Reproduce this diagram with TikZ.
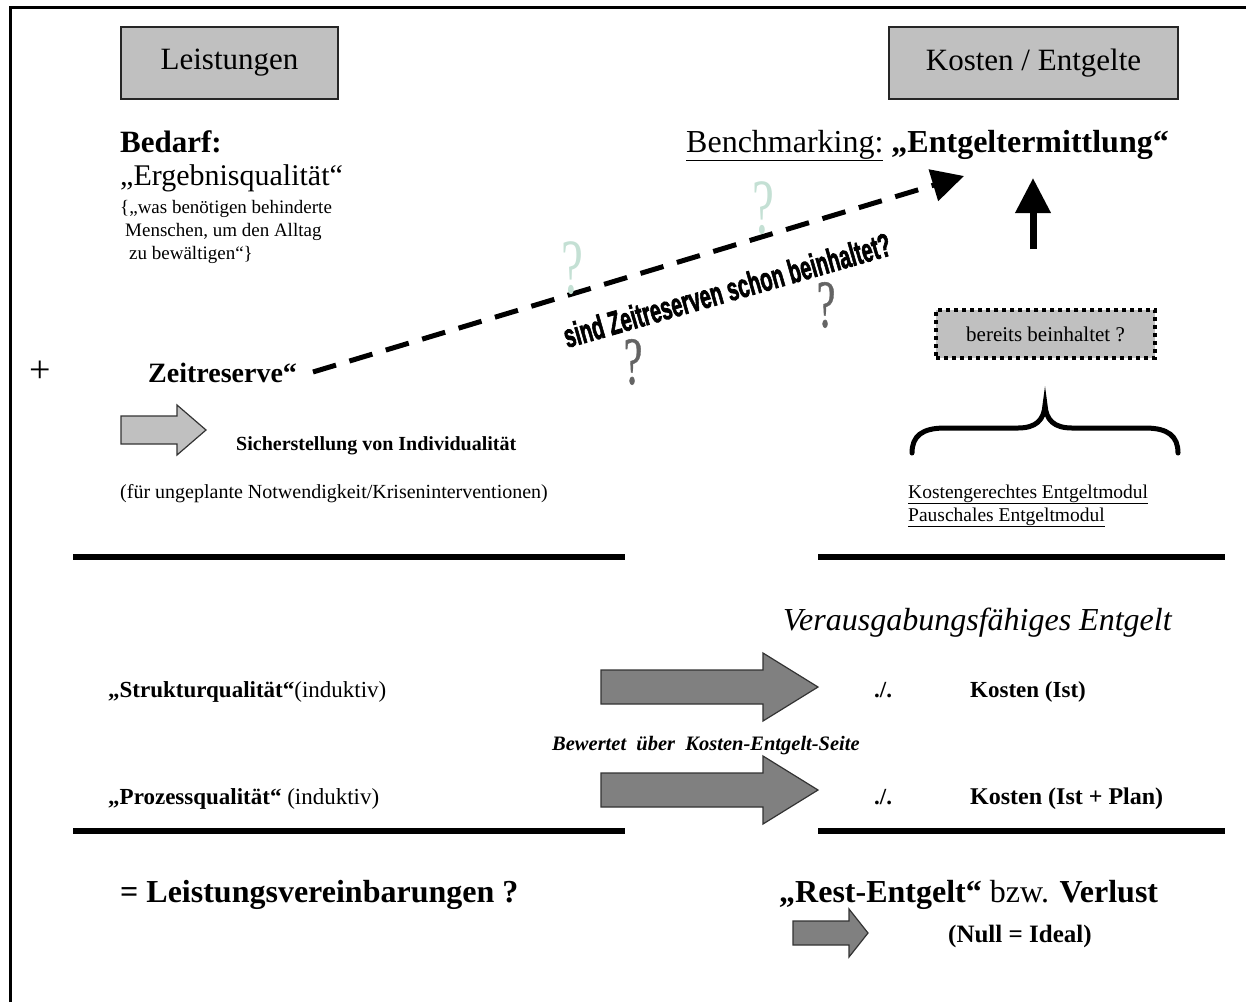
\documentclass[tikz,border=0pt]{standalone}
\usepackage{fontspec}
\setmainfont{Liberation Serif}
\newfontfamily\artfont[UprightFeatures={FakeBold=2.5},BoldFeatures={FakeBold=2.5}]{Liberation Sans}
\newfontfamily\qfont[UprightFeatures={FakeBold=0.8}]{Liberation Serif}
\usetikzlibrary{arrows.meta}
\definecolor{boxgray}{RGB}{192,192,192}
\definecolor{arrgray}{RGB}{128,128,128}
\definecolor{mint}{RGB}{196,224,212}
\definecolor{qgray}{RGB}{100,100,100}
\newcommand{\fsz}[1]{\fontsize{#1}{#1}\selectfont}
\begin{document}
\begin{tikzpicture}[x=1pt,y=-1pt,
  headbox/.style={draw=black!85, line width=2pt, fill=boxgray, inner sep=0, font=\fsz{31}, minimum height=72pt},
  txt/.style={anchor=base west, inner sep=0},
  rule/.style={line width=6pt},
  darrow/.style={draw=black!80, line width=1.2pt, fill=arrgray},
  larrow/.style={draw=black!80, line width=1.2pt, fill=boxgray},
  qlight/.style={text=mint, font=\fsz{58}, inner sep=0},
  qdark/.style={text=qgray, font=\qfont\fsz{50}, inner sep=0}
]
\useasboundingbox (0,0) rectangle (1246,1002);
% frame
\draw[line width=3pt] (10,1002) -- (10,7) -- (1246,7);

% header boxes
\node[headbox, minimum width=217pt] (leist) at (229.5,63) {Leistungen};
\node[headbox, minimum width=289pt] (kost) at (1033.5,63) {Kosten / Entgelte};

% left upper text
\node[txt, font=\fsz{31}\bfseries] (bedarf) at (120,152) {Bedarf:};
\node[txt, font=\fsz{30}] (ergeb) at (120,185) {„Ergebnisqualität“};
\node[txt, font=\fsz{19}] (s1) at (120,213) {\{„was benötigen behinderte};
\node[txt, font=\fsz{19}] (s2) at (125,236) {Menschen, um den Alltag};
\node[txt, font=\fsz{19}] (s3) at (129,259) {zu bewältigen“\}};

% right upper text
\node[txt, font=\fsz{32}] (bench) at (686,152) {\underline{Benchmarking:} \textbf{„Entgeltermittlung“}};

% plus and Zeitreserve
\node[font=\fsz{38}, inner sep=0] (plus) at (40,372) {+};
\node[txt, font=\fsz{28}\bfseries] (zeit) at (148,382) {Zeitreserve“};

% dashed arrow
\coordinate (dstart) at (313,372);
\coordinate (dend) at (964,176);
\draw[line width=5pt, dash pattern=on 24pt off 14pt, -{Triangle[length=32pt,width=32pt]}] (dstart) -- (dend);

% word art
\node[rotate=16, font=\artfont\bfseries\fsz{33}, inner sep=0] (wa) at (727,290) {\scalebox{0.6}[1]{sind Zeitreserven schon beinhaltet?}};

% question marks
\node[qlight] (q1) at (572,268) {\scalebox{0.85}[1.35]{?}};
\node[qlight] (q2) at (763,208) {\scalebox{0.85}[1.35]{?}};
\node[qdark] (q3) at (633,362) {\scalebox{0.85}[1.35]{?}};
\node[qdark] (q4) at (826,305) {\scalebox{0.85}[1.35]{?}};

% up arrow
\coordinate (upb) at (1033,249);
\coordinate (upt) at (1033,178);
\draw[line width=7pt, -{Triangle[length=35pt,width=34pt]}] (upb) -- (upt);

% bereits box
\node[draw, line width=4pt, dash pattern=on 4pt off 4pt, fill=boxgray, minimum width=219pt, minimum height=48pt, inner sep=0, font=\fsz{21}] (bereits) at (1045.5,334) {bereits beinhaltet ?};

% brace
\draw[line width=5pt, line cap=round] (912,453) .. controls (912,436) and (922,428) .. (945,428) -- (1018,428) .. controls (1036,428) and (1044,420) .. (1045,405) .. controls (1046,420) and (1054,428) .. (1072,428) -- (1145,428) .. controls (1168,428) and (1178,436) .. (1178,453);

\node[txt, font=\fsz{19.5}] (modul1) at (908,498) {\underline{Kostengerechtes Entgeltmodul}};
\node[txt, font=\fsz{19.5}] (modul2) at (908,521) {\underline{Pauschales Entgeltmodul}};

% left arrow and text
\draw[larrow] (121,416) -- (177,416) -- (177,405) -- (206,430) -- (177,455) -- (177,444) -- (121,444) -- cycle;
\node[txt, font=\fsz{20}\bfseries] (sicher) at (236,450) {Sicherstellung von Individualität};
\node[txt, font=\fsz{20}] (fuer) at (120,498) {(für ungeplante Notwendigkeit/Kriseninterventionen)};

% rules
\draw[rule] (73,557) -- (625,557);
\draw[rule] (818,557) -- (1225,557);
\draw[rule] (73,831) -- (625,831);
\draw[rule] (818,831) -- (1225,831);

% lower block
\node[txt, font=\fsz{32}\itshape] (verausg) at (783,630) {Verausgabungsfähiges Entgelt};
\node[txt, font=\fsz{23}] (struk) at (108,697) {\textbf{„Strukturqualität“}(induktiv)};
\node[txt, font=\fsz{23}] (proz) at (108,804) {\textbf{„Prozessqualität“} (induktiv)};
\draw[darrow] (601,670) -- (763,670) -- (763,653) -- (818,687) -- (763,721) -- (763,704) -- (601,704) -- cycle;
\draw[darrow] (601,773) -- (763,773) -- (763,756) -- (818,790) -- (763,824) -- (763,807) -- (601,807) -- cycle;
\node[txt, font=\fsz{20.5}\bfseries\itshape] (bew) at (552,750) {Bewertet\ \ über\ \ Kosten-Entgelt-Seite};
\node[txt, font=\fsz{23}\bfseries] (minus1) at (874,697) {./.};
\node[txt, font=\fsz{23}\bfseries] (k1) at (970,697) {Kosten (Ist)};
\node[txt, font=\fsz{23}\bfseries] (minus2) at (874,804) {./.};
\node[txt, font=\fsz{24}\bfseries] (k2) at (970,804) {Kosten (Ist + Plan)};

% bottom
\node[txt, font=\fsz{32}\bfseries] (lv) at (120,902) {= Leistungsvereinbarungen ?};
\node[txt, font=\fsz{32}] (rest) at (779,902) {\textbf{„Rest-Entgelt“} bzw. \textbf{Verlust}};
\draw[darrow] (793,921) -- (849,921) -- (849,909) -- (868,933) -- (849,957) -- (849,945) -- (793,945) -- cycle;
\node[txt, font=\fsz{25}\bfseries] (null) at (948,942) {(Null = Ideal)};
\end{tikzpicture}
\end{document}
